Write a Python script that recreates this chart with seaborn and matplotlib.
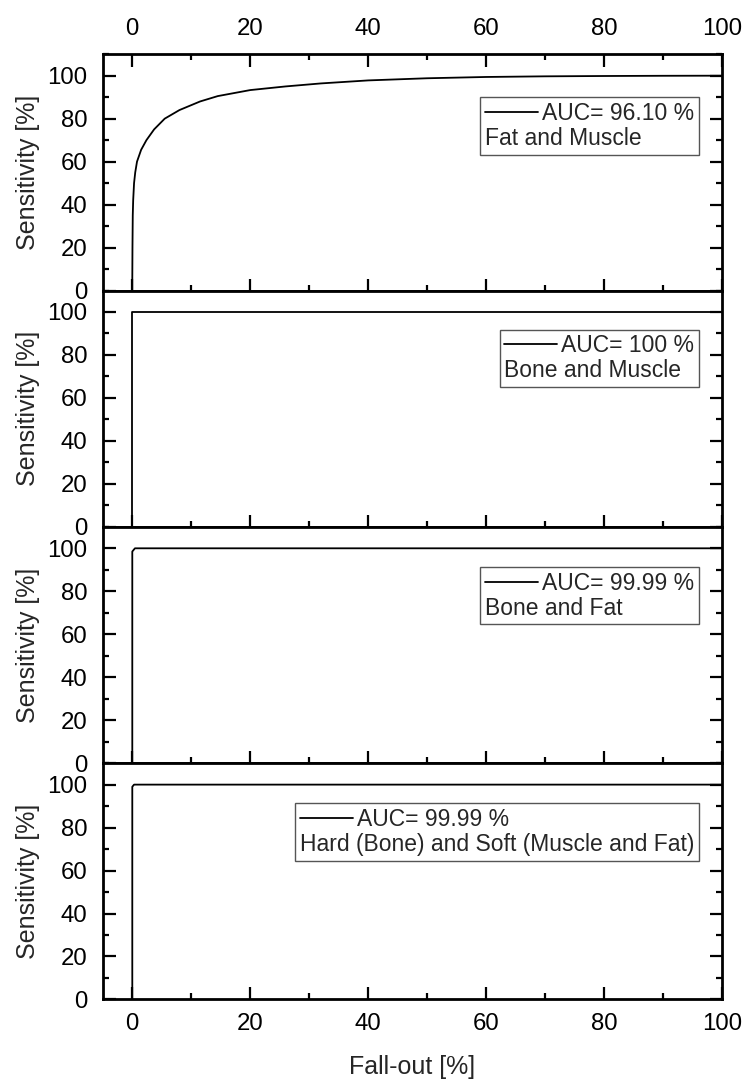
import numpy as np
import pandas as pd
import matplotlib.pyplot as plt
import seaborn as sns
from matplotlib.ticker import MultipleLocator

# ROC curves (fall-out %, sensitivity %)
fat_muscle_x = [0, 0, 0.03, 0.08, 0.15, 0.3, 0.5, 0.8, 1.5, 2.4, 3.7, 5.5, 8, 11.5,
                14.5, 20, 26, 32, 40, 50, 60, 70, 80, 90, 100]
fat_muscle_y = [0, 5, 20, 35, 42, 50, 55, 60, 65.5, 70, 75, 80, 84, 88,
                90.5, 93.3, 95, 96.4, 97.8, 98.8, 99.4, 99.7, 99.85, 99.95, 100]
bone_muscle_x = [0, 0, 100]
bone_muscle_y = [0, 100, 100]
bone_fat_x = [0, 0, 0.45, 100]
bone_fat_y = [0, 98.5, 100, 100]
hard_soft_x = [0, 0, 0.3, 100]
hard_soft_y = [0, 99, 100, 100]

tissues = ["Fat and Muscle", "Bone and Muscle", "Bone and Fat",
           "Hard (Bone) and Soft (Muscle and Fat)"]
auc_labels = ["AUC= 96.10 %", "AUC= 100 %", "AUC= 99.99 %", "AUC= 99.99 %"]
curves_x = [fat_muscle_x, bone_muscle_x, bone_fat_x, hard_soft_x]
curves_y = [fat_muscle_y, bone_muscle_y, bone_fat_y, hard_soft_y]

sns.set_style("ticks")
plt.rcParams['font.family'] = ['Liberation Sans', 'DejaVu Sans']

fig, axes = plt.subplots(4, 1, sharex=True, figsize=(7.45, 10.84), dpi=100)
fig.subplots_adjust(left=0.138, right=0.969, top=0.950, bottom=0.078, hspace=0)

legend_y = [0.818, 0.835, 0.83, 0.83]

for i, ax in enumerate(axes):
    df = pd.DataFrame({"fallout": curves_x[i], "sens": curves_y[i]})
    sns.lineplot(data=df, x="fallout", y="sens", estimator=None, sort=False,
                 color="black", linewidth=1.3, label=auc_labels[i], ax=ax)

    ax.set_xlim(-5, 100)
    ax.set_ylim(0, 110)
    ax.xaxis.set_major_locator(MultipleLocator(20))
    ax.xaxis.set_minor_locator(MultipleLocator(10))
    ax.yaxis.set_major_locator(MultipleLocator(20))
    ax.yaxis.set_minor_locator(MultipleLocator(10))

    for sp in ax.spines.values():
        sp.set_visible(True)
        sp.set_linewidth(2)
        sp.set_color("black")

    ax.tick_params(which="both", direction="in", left=True, right=True,
                   bottom=True, top=(i == 0), width=1.6, colors="black",
                   labelsize=17.3)
    ax.tick_params(which="major", length=9)
    ax.tick_params(which="minor", length=4.5)
    ax.tick_params(axis="y", pad=11)
    ax.tick_params(axis="x", pad=10, labelbottom=(i == 3), labeltop=(i == 0))

    ax.set_ylabel("Sensitivity [%]", fontsize=18, labelpad=5)
    ax.set_xlabel("")

    leg = ax.legend(loc="upper right", bbox_to_anchor=(0.963, legend_y[i]),
                    borderaxespad=0, title=tissues[i], alignment="left",
                    fontsize=16.5, title_fontsize=16.5, handlelength=2.3,
                    handletextpad=0.2, borderpad=0.2, labelspacing=0.1,
                    frameon=True, fancybox=False, edgecolor="#555555",
                    framealpha=1)
    leg.get_frame().set_linewidth(1)
    # put the tissue name under the AUC entry
    leg._legend_box.get_children().reverse()

axes[3].set_xlabel("Fall-out [%]", fontsize=18, labelpad=14)

plt.savefig("out.png", dpi=100)
